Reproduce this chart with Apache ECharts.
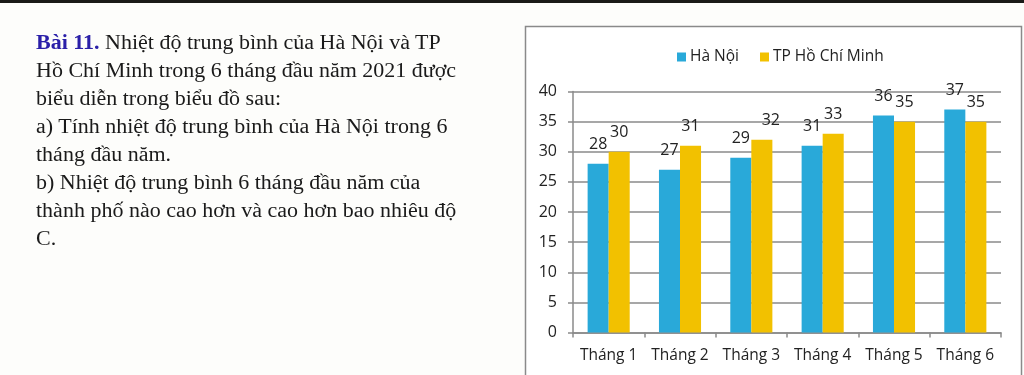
<!DOCTYPE html>
<html>
<head>
<meta charset="utf-8">
<script src="https://cdn.jsdelivr.net/npm/echarts@6/dist/echarts.min.js"></script>
<style>
  html, body { margin: 0; padding: 0; background: #fdfdfb; width: 1024px; height: 375px; overflow: hidden; }
  #topbar { position: absolute; left: 0; top: 0; width: 1024px; height: 3px; background: #1a1a18; }
  #text { position: absolute; left: 36px; top: 28px; font-family: "Liberation Serif", "Times New Roman", serif; font-size: 20px; line-height: 28px; color: #1a1a1a; white-space: nowrap; transform: scaleX(1.1); transform-origin: 0 0; }
  #text b { color: #2a1fa8; }
  #chart { position: absolute; left: 0; top: 0; width: 1024px; height: 375px; }
</style>
</head>
<body>
<div id="topbar"></div>
<div id="chart"></div>
<div id="text">
  <div><b>Bài 11.</b> Nhiệt độ trung bình của Hà Nội và TP</div>
  <div>Hồ Chí Minh trong 6 tháng đầu năm 2021 được</div>
  <div>biểu diễn trong biểu đồ sau:</div>
  <div>a) Tính nhiệt độ trung bình của Hà Nội trong 6</div>
  <div>tháng đầu năm.</div>
  <div>b) Nhiệt độ trung bình 6 tháng đầu năm của</div>
  <div>thành phố nào cao hơn và cao hơn bao nhiêu độ</div>
  <div>C.</div>
</div>
<script>
const categories = ["Tháng 1", "Tháng 2", "Tháng 3", "Tháng 4", "Tháng 5", "Tháng 6"];
const seriesNames = ["Hà Nội", "TP Hồ Chí Minh"];
const haNoi = [28, 27, 29, 31, 36, 37];
const hoChiMinh = [30, 31, 32, 33, 35, 35];
const yTicks = [0, 5, 10, 15, 20, 25, 30, 35, 40];

const FONT = "Open Sans";
const chart = echarts.init(document.getElementById('chart'), null, { renderer: 'canvas' });

function labelCfg() {
  return { show: true, position: 'top', distance: 11, color: '#222', fontFamily: FONT, fontSize: 16 };
}

chart.setOption({
  backgroundColor: 'transparent',
  animation: false,
  graphic: [{
    type: 'rect', z: -10,
    shape: { x: 525.5, y: 26.5, width: 496, height: 360 },
    style: { fill: '#ffffff', stroke: '#8a8a8a', lineWidth: 1.5 }
  }],
  legend: {
    data: seriesNames,
    left: 672, top: 44,
    itemWidth: 9, itemHeight: 9, itemGap: 21,
    icon: 'rect',
    textStyle: { fontFamily: FONT, fontSize: 15.5, color: '#222', padding: [0, 0, 0, -1] }
  },
  grid: { left: 573, right: 23, top: 91.5, bottom: 42.5, containLabel: false },
  xAxis: {
    type: 'category', data: categories,
    axisLine: { lineStyle: { color: '#8a8a8a', width: 1.5 } },
    axisTick: { show: true, length: 5, lineStyle: { color: '#8a8a8a', width: 1.5 } },
    axisLabel: { interval: 0, fontFamily: FONT, fontSize: 15.5, color: '#222', margin: 15 }
  },
  yAxis: {
    type: 'value', min: yTicks[0], max: yTicks[yTicks.length - 1], interval: 5,
    axisLine: { show: true, lineStyle: { color: '#8a8a8a', width: 1.5 } },
    axisTick: { show: true, length: 5, lineStyle: { color: '#8a8a8a', width: 1.5 } },
    axisLabel: { fontFamily: FONT, fontSize: 16, color: '#222', margin: 16 },
    splitLine: { lineStyle: { color: '#8a8a8a', width: 1.5 } }
  },
  series: [
    {
      name: seriesNames[0], type: 'bar', data: haNoi,
      barGap: '0%', barCategoryGap: '41%',
      itemStyle: { color: '#29a9d9' },
      label: labelCfg()
    },
    {
      name: seriesNames[1], type: 'bar',
      data: hoChiMinh.map((v, i) => i === 2 ? { value: v, label: { offset: [9, 0] } } : v),
      barGap: '0%', barCategoryGap: '41%',
      itemStyle: { color: '#f2c100' },
      label: labelCfg()
    }
  ]
});
</script>
</body>
</html>
